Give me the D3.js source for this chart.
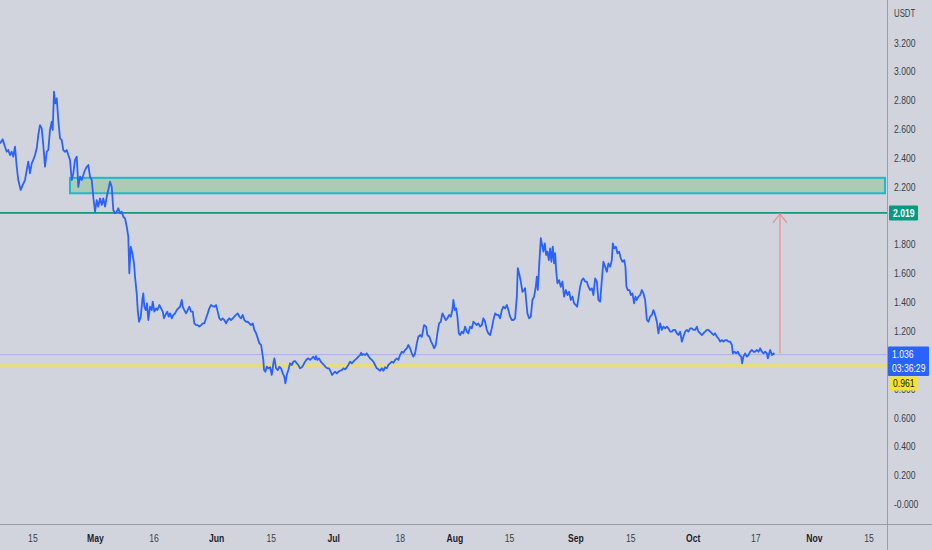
<!DOCTYPE html>
<html><head><meta charset="utf-8">
<script src="https://cdn.jsdelivr.net/npm/d3@7"></script>
<style>
html,body{margin:0;padding:0;background:#d1d4dc;overflow:hidden;}
svg{display:block;}
text{font-family:"Liberation Sans",Arial,sans-serif;}
</style></head><body>
<svg id="chart" width="932" height="550"></svg>
<script>
// ---- data (days since the first sample, USDT prices) ----
const baseDate = new Date(2022, 3, 6, 17, 2);
const days = [
0,0.69,1.28,1.72,2.12,2.56,3.00,3.40,3.84,4.28,4.68,5.30,5.81,6.40,6.84,7.24,7.68,8.12,8.52,8.96,9.40,9.80,10.24,10.68,11.08,11.52,11.96,12.36,12.80,13.24,13.49,13.82,14.16,14.52,14.92,15.36,15.80,16.20,16.64,17.08,17.48,17.92,18.36,18.76,19.20,19.64,20.04,20.48,20.92,21.32,21.76,22.20,22.60,23.04,23.48,23.88,24.32,24.76,25.16,25.60,26.04,26.44,26.88,27.32,27.72,28.16,28.60,29.00,29.44,29.88,30.28,30.72,31.16,31.56,32.00,
32.44,32.84,33.10,33.46,33.87,34.30,34.56,34.99,35.25,35.58,36.02,36.43,36.68,36.94,37.30,37.63,37.96,38.40,38.84,39.09,39.50,39.94,40.27,40.78,41.22,41.65,41.98,42.32,42.83,43.19,43.52,43.96,44.36,44.80,45.24,45.64,46.08,46.52,46.77,47.18,47.62,48.05,48.46,48.90,49.33,49.74,50.18,50.61,51.02,51.46,51.89,52.30,52.74,53.17,53.58,54.02,54.45,54.86,55.30,55.73,56.14,56.58,57.01,57.42,57.86,58.29,58.70,59.14,59.57,59.98,60.42,60.85,61.26,61.70,62.13,62.54,62.98,63.41,63.82,64.26,64.69,65.10,65.54,65.97,66.38,66.82,67.15,
67.40,67.58,67.92,68.28,68.68,69.12,69.56,69.96,70.22,70.66,71.09,71.50,71.94,72.37,72.78,73.04,73.40,73.80,74.24,74.68,75.08,75.52,75.96,76.36,76.80,77.24,77.64,78.08,78.52,78.92,79.36,79.80,80.20,80.64,80.90,81.23,81.66,82.10,82.51,82.94,83.38,83.79,84.22,84.66,84.99,85.32,85.76,86.20,86.60,87.04,87.48,87.88,88.32,88.76,89.16,89.60,90.04,90.44,90.88,91.32,91.72,92.16,92.42,92.67,93.00,93.44,93.88,94.28,94.72,95.16,95.56,96.00,96.44,96.84,97.28,97.72,98.12,98.56,99.00,99.40,99.84,100.28,100.68,101.12,101.56,101.96,102.40,102.84,103.24,103.68,104.12,104.52,104.96,105.40,105.80,106.24,106.68,107.08,107.52,
107.96,108.54,109.06,109.39,109.90,110.34,110.77,111.10,111.54,111.95,112.38,112.82,113.23,113.66,114.10,114.51,114.94,115.38,115.79,116.04,116.40,116.74,117.07,117.43,117.76,118.20,118.60,119.04,119.48,119.88,120.32,120.76,121.16,121.60,122.04,122.44,122.88,123.32,123.72,124.16,124.60,125.00,125.44,125.88,126.28,126.72,127.16,127.56,128.00,128.44,128.84,129.28,129.72,130.12,130.56,131.00,131.40,131.84,132.28,132.53,132.86,133.30,133.71,134.14,134.40,134.66,134.99,135.42,135.86,136.27,136.70,137.14,137.40,137.65,137.98,138.24,138.42,138.75,139.08,139.44,139.78,140.11,140.47,140.80,141.13,141.49,141.82,142.08,142.34,142.67,143.10,143.54,143.95,144.38,144.82,145.23,145.66,146.10,146.51,146.94,147.38,147.71,148.04,148.48,148.92,149.32,149.76,150.20,150.60,151.04,151.48,151.88,152.32,152.76,153.16,153.60,
154.04,154.44,154.88,155.32,155.72,156.16,156.60,156.85,157.18,157.62,158.03,158.46,158.90,159.31,159.74,160.08,160.33,160.69,161.10,161.46,161.87,162.30,162.64,162.99,163.40,163.84,164.28,164.68,165.12,165.56,165.96,166.40,166.84,167.24,167.68,168.12,168.52,168.96,169.40,169.80,170.24,170.68,171.08,171.52,171.96,172.36,172.80,173.24,173.64,174.08,174.52,174.92,175.36,175.80,176.20,176.64,177.08,177.48,177.92,178.36,178.76,179.20,179.64,180.04,180.48,180.92,181.32,181.76,182.20,182.60,183.04,183.48,183.88,184.32,184.76,185.16,185.60,186.04,186.44,186.88,187.32,187.57,187.98,188.42,188.85,189.26,189.70,189.95,190.28,190.72,191.16,191.56,192.00,192.44,192.84,193.28,193.72,194.12,194.56,195.00,195.40,195.84,196.28,196.53,196.86,197.12,197.56,197.96,198.22
];
const prices = [
2.501,2.529,2.478,2.443,2.455,2.420,2.443,2.409,2.478,2.339,2.247,2.178,2.212,2.247,2.316,2.374,2.293,2.363,2.386,2.420,2.467,2.559,2.628,2.605,2.490,2.339,2.443,2.455,2.594,2.651,2.594,2.859,2.779,2.813,2.663,2.536,2.524,2.455,2.443,2.455,2.420,2.386,2.247,2.293,2.386,2.409,2.200,2.270,2.247,2.282,2.316,2.339,2.351,2.270,2.247,2.131,2.027,2.108,2.062,2.120,2.074,2.120,2.062,2.131,2.178,2.235,2.200,2.039,2.016,2.027,2.051,2.016,2.027,1.992,1.981,
1.923,1.854,1.600,1.784,1.739,1.669,1.576,1.461,1.345,1.264,1.299,1.415,1.461,1.368,1.345,1.392,1.276,1.368,1.345,1.403,1.334,1.357,1.345,1.380,1.357,1.334,1.288,1.311,1.334,1.299,1.322,1.288,1.311,1.322,1.345,1.357,1.368,1.415,1.368,1.345,1.322,1.345,1.368,1.334,1.334,1.253,1.241,1.241,1.230,1.241,1.253,1.253,1.288,1.322,1.357,1.380,1.373,1.368,1.380,1.334,1.288,1.276,1.288,1.276,1.253,1.276,1.288,1.276,1.288,1.299,1.311,1.322,1.299,1.288,1.311,1.276,1.264,1.264,1.253,1.241,1.253,1.207,1.184,1.149,1.114,1.103,1.045,
0.999,0.929,0.917,0.952,0.941,0.948,0.895,0.976,1.010,0.941,0.929,0.952,0.941,0.906,0.883,0.837,0.895,0.929,0.976,0.964,0.987,0.992,0.976,0.964,0.941,0.948,0.964,0.987,1.003,1.010,0.999,1.010,1.022,1.003,1.026,0.999,1.010,0.987,0.976,0.964,0.948,0.941,0.941,0.917,0.895,0.906,0.917,0.906,0.917,0.924,0.929,0.941,0.934,0.948,0.964,0.987,0.976,0.987,0.999,1.010,1.022,1.033,1.049,1.033,1.040,1.033,1.045,1.026,1.010,0.999,0.987,0.964,0.941,0.934,0.924,0.941,0.924,0.948,0.941,0.964,0.976,0.987,0.980,0.999,1.010,0.999,1.033,1.056,1.049,1.068,1.080,1.103,1.080,1.045,1.022,1.045,1.114,1.160,1.172,
1.160,1.241,1.230,1.172,1.160,1.126,1.103,1.080,1.103,1.184,1.253,1.264,1.322,1.299,1.276,1.288,1.311,1.299,1.345,1.415,1.345,1.357,1.299,1.184,1.172,1.195,1.184,1.230,1.195,1.184,1.230,1.218,1.264,1.253,1.241,1.253,1.230,1.241,1.288,1.264,1.207,1.184,1.172,1.218,1.276,1.322,1.311,1.311,1.288,1.345,1.368,1.357,1.380,1.345,1.299,1.276,1.276,1.288,1.438,1.635,1.600,1.542,1.472,1.484,1.496,1.415,1.322,1.288,1.299,1.415,1.438,1.507,1.576,1.484,1.646,1.761,1.843,1.796,1.750,1.808,1.727,1.750,1.692,1.773,1.680,1.784,1.669,1.739,1.623,1.531,1.553,1.507,1.542,1.438,1.484,1.449,1.472,1.415,1.438,1.392,1.380,1.368,1.426,1.507,1.553,1.565,1.542,1.542,1.507,1.484,1.496,1.449,1.565,1.542,1.415,1.403,
1.553,1.680,1.646,1.611,1.669,1.646,1.692,1.808,1.773,1.784,1.739,1.750,1.704,1.680,1.692,1.646,1.507,1.484,1.484,1.449,1.461,1.392,1.438,1.415,1.438,1.449,1.484,1.461,1.415,1.276,1.264,1.299,1.311,1.345,1.311,1.264,1.184,1.253,1.207,1.230,1.218,1.230,1.218,1.195,1.195,1.207,1.207,1.184,1.172,1.195,1.126,1.160,1.195,1.207,1.195,1.218,1.218,1.207,1.207,1.230,1.195,1.184,1.172,1.184,1.195,1.207,1.207,1.195,1.184,1.172,1.184,1.160,1.149,1.126,1.137,1.126,1.137,1.137,1.126,1.126,1.103,1.045,1.056,1.045,1.056,1.033,1.022,0.976,1.022,1.045,1.022,1.033,1.056,1.068,1.056,1.056,1.068,1.056,1.080,1.056,1.045,1.056,1.045,1.010,1.045,1.068,1.033,1.045,1.036
];
const xTickDates = ["2022-04-15","2022-05-01","2022-05-16","2022-06-01","2022-06-15","2022-07-01","2022-07-18","2022-08-01","2022-08-15","2022-09-01","2022-09-15","2022-10-01","2022-10-17","2022-11-01","2022-11-15"];
const xTickLabels = ["15","May","16","Jun","15","Jul","18","Aug","15","Sep","15","Oct","17","Nov","15"];
// tick labels left visible by the price tags (2.000 and 1.000 sit fully under tags)
const yTicks = [3.2,3.0,2.8,2.6,2.4,2.2,1.8,1.6,1.4,1.2,0.8,0.6,0.4,0.2,0];
const yTickLabels = ["3.200","3.000","2.800","2.600","2.400","2.200","1.800","1.600","1.400","1.200","0.800","0.600","0.400","0.200","-0.000"];
const currency = "USDT";
const resistanceLevel = 2.019;
const supportLevel = 0.961;
const lastPrice = 1.036;
const countdown = "03:36:29";
const zoneStart = "2022-04-24T15:00";
const zoneTop = 2.262, zoneBottom = 2.155;
const arrowDate = "2022-10-23T08:00";
const arrowFrom = 1.045, arrowTo = 2.019;

// ---- layout ----
const W = 932, H = 550, plotRight = 887, axisY = 524;
const CONDENSE = 0.78;
const svg = d3.select("#chart");
svg.append("rect").attr("width", W).attr("height", H).attr("fill", "#d1d4dc");

function condense(sel) {
  sel.each(function() {
    const w = this.getComputedTextLength();
    if (w > 0) d3.select(this).attr("textLength", w * CONDENSE).attr("lengthAdjust", "spacingAndGlyphs");
  });
}

const parseDay = d3.timeParse("%Y-%m-%d");
const parseDT = d3.timeParse("%Y-%m-%dT%H:%M");
const x = d3.scaleTime().domain([new Date(2022,4,1), new Date(2022,10,1)]).range([94.9, 813.8]);
const y = d3.scaleLinear().domain([0, 3.2]).range([504, 42.6]);

const data = days.map((d,i) => ({date: new Date(baseDate.getTime() + d*864e5), price: prices[i]}));

svg.append("clipPath").attr("id","plotclip").append("rect").attr("x",0).attr("y",0).attr("width",plotRight).attr("height",axisY);
const plot = svg.append("g").attr("clip-path","url(#plotclip)");

// zone
const zx = x(parseDT(zoneStart));
plot.append("rect")
  .attr("x", zx).attr("y", y(zoneTop))
  .attr("width", plotRight - 2 - zx).attr("height", y(zoneBottom) - y(zoneTop))
  .attr("fill", "rgba(102,187,106,0.35)").attr("stroke", "#1cb9cf").attr("stroke-width", 2);

// horizontal levels
plot.append("line").attr("x1",0).attr("x2",plotRight).attr("y1",y(lastPrice)).attr("y2",y(lastPrice))
  .attr("stroke","#a9b3e3").attr("stroke-width",1);
plot.append("line").attr("x1",0).attr("x2",plotRight).attr("y1",y(supportLevel)).attr("y2",y(supportLevel))
  .attr("stroke","#f3e531").attr("stroke-width",2);
plot.append("line").attr("x1",0).attr("x2",plotRight).attr("y1",y(resistanceLevel)).attr("y2",y(resistanceLevel))
  .attr("stroke","#17977c").attr("stroke-width",1.6);

// price line
plot.append("path").datum(data)
  .attr("d", d3.line().x(d=>x(d.date)).y(d=>y(d.price)))
  .attr("fill","none").attr("stroke","#2962ff").attr("stroke-width",1.8).attr("stroke-linejoin","round");

// arrow
const ax = x(parseDT(arrowDate));
const ay1 = y(arrowFrom), ay2 = y(arrowTo);
plot.append("line").attr("x1",ax).attr("x2",ax).attr("y1",ay1).attr("y2",ay2+1)
  .attr("stroke","#ee8a8c").attr("stroke-width",1.2);
plot.append("path").attr("d",`M${ax-7},${ay2+10}L${ax},${ay2+1}L${ax+7},${ay2+10}`)
  .attr("fill","none").attr("stroke","#ee8a8c").attr("stroke-width",1.2);

// separators
svg.append("line").attr("x1",plotRight+0.5).attr("x2",plotRight+0.5).attr("y1",0).attr("y2",H)
  .attr("stroke","#9a9da6").attr("stroke-width",1);
svg.append("line").attr("x1",0).attr("x2",W).attr("y1",axisY+0.5).attr("y2",axisY+0.5)
  .attr("stroke","#9a9da6").attr("stroke-width",1);

// bottom axis
const xAxis = d3.axisBottom(x)
  .tickValues(xTickDates.map(parseDay))
  .tickFormat((d,i) => xTickLabels[i]).tickSize(0).tickPadding(10);
const gx = svg.append("g").attr("transform",`translate(0,${axisY})`).call(xAxis);
gx.select(".domain").remove();
gx.selectAll("text")
  .attr("font-size", 11).attr("font-family", null)
  .attr("fill", (d,i) => isNaN(+xTickLabels[i]) ? "#1e222d" : "#3c3f48")
  .attr("font-weight", (d,i) => isNaN(+xTickLabels[i]) ? "bold" : "normal")
  .call(condense);

// right axis
const yAxis = d3.axisRight(y).tickValues(yTicks).tickFormat((d,i)=>yTickLabels[i]).tickSize(0).tickPadding(0);
const gy = svg.append("g").attr("transform",`translate(894,0)`).call(yAxis);
gy.select(".domain").remove();
gy.selectAll("text").attr("font-size", 11).attr("font-family", null).attr("fill","#3c3f48").call(condense);
svg.append("text").attr("x",894).attr("y",13).attr("dy","0.35em").attr("font-size",10).attr("fill","#3c3f48").text(currency).call(condense);

// price labels
function tag(yc, h, x0, x1, fill, color, lines) {
  svg.append("rect").attr("x",x0).attr("y",yc).attr("width",x1-x0).attr("height",h).attr("fill",fill).attr("rx",1);
  lines.forEach(l => svg.append("text").attr("x",x0+4).attr("y",l.y).attr("dy","0.35em")
    .attr("font-size",11).attr("fill",color).attr("font-weight", l.bold ? "bold":"normal").text(l.t).call(condense));
}
const yr = y(resistanceLevel);
tag(yr-7.5, 15, 889, 918, "#089981", "#ffffff", [{t: d3.format(".3f")(resistanceLevel), y: yr, bold:true}]);
const yl = y(lastPrice);
tag(yl-8, 29.5, 888, 929, "#2962ff", "#ffffff", [{t: d3.format(".3f")(lastPrice), y: yl}, {t: countdown, y: yl+13.5}]);
tag(yl+22, 14, 889, 918, "#f4e42c", "#131722", [{t: d3.format(".3f")(supportLevel), y: yl+29}]);
</script>
</body></html>
